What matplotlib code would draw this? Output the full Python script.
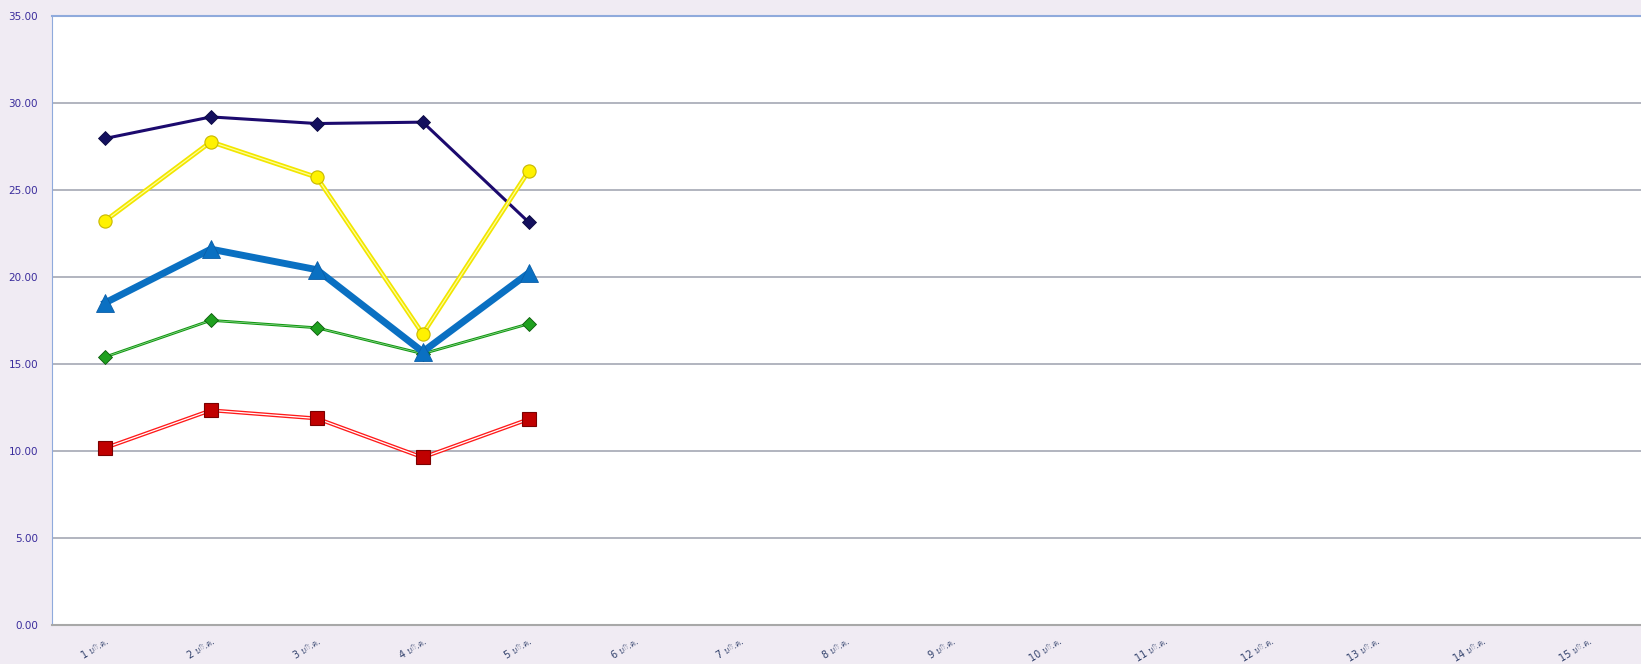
import matplotlib
matplotlib.use("Agg")
import matplotlib.pyplot as plt
from matplotlib import font_manager
from matplotlib.ft2font import FT2Font

# categories: days in March (Thai abbreviation)
days = [f"{d} มี.ค." for d in range(1, 16)]

navy_vals = [27.96, 29.2, 28.82, 28.9, 23.15]
yellow_vals = [23.22, 27.77, 25.73, 16.73, 26.09]
blue_vals = [18.51, 21.6, 20.42, 15.70, 20.23]
green_vals = [15.40, 17.51, 17.08, 15.59, 17.31]
red_vals = [10.17, 12.34, 11.87, 9.63, 11.83]

y_ticks = [0, 5, 10, 15, 20, 25, 30, 35]


def thai_families():
    found = []
    for path in font_manager.findSystemFonts():
        try:
            font = FT2Font(path)
            if 0x0E21 in font.get_charmap():
                name = font_manager.FontProperties(fname=path).get_name()
                if name not in found:
                    found.append(name)
        except Exception:
            continue
    return found


families = ["DejaVu Sans"] + thai_families()
plt.rcParams["font.family"] = families

bg = "#F0EBF3"
fig = plt.figure(figsize=(16.41, 6.64), dpi=100, facecolor=bg)
ax = fig.add_axes([52 / 1641, 39 / 664, 1 - 52 / 1641, 609 / 664])
ax.set_facecolor("white")

x = list(range(len(navy_vals)))

# red: double line (red edges, white centre)
ax.plot(x, red_vals, color="#FF1A1A", lw=2.8, zorder=3)
ax.plot(x, red_vals, color="white", lw=0.9, zorder=3.1)
ax.plot(x, red_vals, ls="none", marker="s", ms=9.5, mfc="#C00000", mec="#7A0000",
        mew=0.8, zorder=3.2)

# green
ax.plot(x, green_vals, color="#119911", lw=2.0, zorder=4)
ax.plot(x, green_vals, color="#9BD89B", lw=0.5, zorder=4.1)
ax.plot(x, green_vals, ls="none", marker="D", ms=7, mfc="#1FA01F", mec="#0A5A0A",
        mew=0.6, zorder=4.2)

# blue thick
ax.plot(x, blue_vals, color="#0A70C2", lw=5, zorder=5)
ax.plot(x, blue_vals, ls="none", marker="^", ms=13, mfc="#0A70C2", mec="#0A5EA8",
        mew=0.6, zorder=5.2)

# yellow double line
ax.plot(x, yellow_vals, color="#F2E600", lw=3.4, zorder=6)
ax.plot(x, yellow_vals, color="#FFFF9A", lw=0.9, zorder=6.1)
ax.plot(x, yellow_vals, ls="none", marker="o", ms=9.5, mfc="#FFF200", mec="#C8B800",
        mew=0.8, zorder=6.2)

# navy
ax.plot(x, navy_vals, color="#1C0A6E", lw=2.2, zorder=5.5)
ax.plot(x, navy_vals, ls="none", marker="D", ms=7.5, mfc="#14105E", mec="#0A0840",
        mew=0.6, zorder=5.6)

ax.set_xlim(-0.5, len(days) - 0.5)
ax.set_ylim(0, 35)
ax.set_yticks(y_ticks)
ax.set_yticklabels([f"{v:.2f}" for v in y_ticks], color="#3A2C9C", fontsize=7.5)
ax.set_xticks(range(len(days)))
ax.set_xticklabels(days, rotation=32, ha="right", rotation_mode="anchor",
                   color="#2F3F6A", fontsize=7)
ax.tick_params(axis="y", length=0, pad=10)
ax.tick_params(axis="x", length=0, pad=8)

ax.yaxis.grid(True, color="#A4A8B4", lw=1.2)
ax.set_axisbelow(True)

ax.spines["left"].set_color("#8FAADC")
ax.spines["top"].set_color("#8FAADC")
ax.spines["top"].set_linewidth(1.5)
ax.spines["bottom"].set_color("#A8A8A8")
ax.spines["bottom"].set_linewidth(1.5)
ax.spines["right"].set_visible(False)

fig.savefig("out.png", dpi=100, facecolor=bg)
